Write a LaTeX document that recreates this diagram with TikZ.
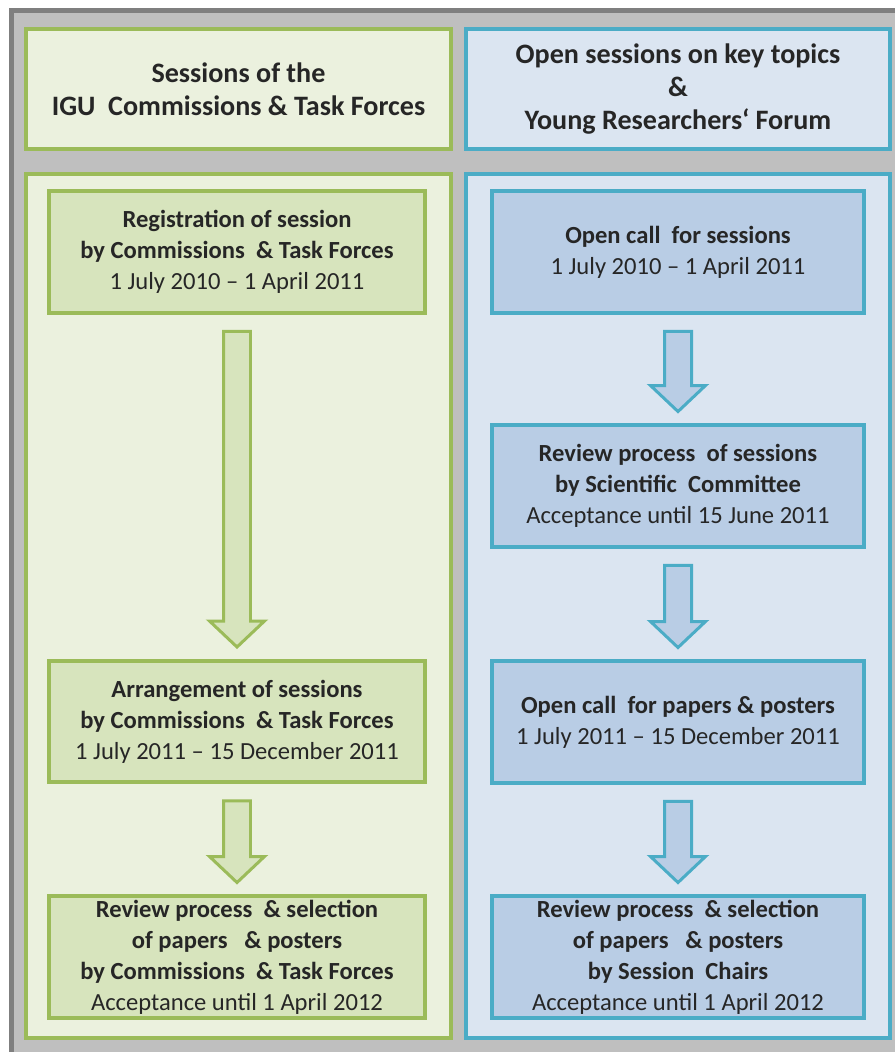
\documentclass[tikz,border=0pt]{standalone}
\usepackage{fontspec}
\setmainfont{Carlito}
\usetikzlibrary{calc}
\definecolor{frameline}{HTML}{7F7F7F}
\definecolor{framefill}{HTML}{BFBFBF}
\definecolor{igugreen}{HTML}{9BBB59}
\definecolor{greenpanel}{HTML}{EBF1DE}
\definecolor{greenbox}{HTML}{D7E4BD}
\definecolor{igublue}{HTML}{4BACC6}
\definecolor{bluepanel}{HTML}{DBE5F1}
\definecolor{bluebox}{HTML}{B9CDE5}
\tikzset{
  header/.style={draw, line width=0.08cm, align=center, inner sep=0pt,
    font=\fontsize{16}{18.8}\selectfont\bfseries, text=black!85},
  greenhead/.style={header, draw=igugreen, fill=greenpanel, minimum width=8.5cm, minimum height=2.4cm},
  bluehead/.style={header, draw=igublue, fill=bluepanel, minimum width=8.48cm, minimum height=2.4cm},
  stage/.style={draw, line width=0.08cm, align=center, inner sep=0pt, minimum height=2.44cm,
    font=\fontsize{14}{17.6}\selectfont, text=black!85},
  greenstage/.style={stage, draw=igugreen, fill=greenbox, minimum width=7.52cm},
  bluestage/.style={stage, draw=igublue, fill=bluebox, minimum width=7.44cm},
  greenarrow/.style={draw=igugreen, fill=greenbox, line width=0.06cm, line join=miter},
  bluearrow/.style={draw=igublue, fill=bluebox, line width=0.06cm, line join=miter}
}
% block arrow from the bottom of one stage to the top of the next
\newcommand{\stagearrow}[3]{%
  \draw[#3] let \p1=($(#1.south)+(0,-0.33cm)$), \p2=($(#2.north)+(0,0.23cm)$) in
    (\x1-0.27cm,\y1) -- (\x1+0.27cm,\y1) -- (\x1+0.27cm,\y2+0.52cm)
    -- (\x1+0.55cm,\y2+0.52cm) -- (\x1,\y2) -- (\x1-0.55cm,\y2+0.52cm)
    -- (\x1-0.27cm,\y2+0.52cm) -- cycle;}
\begin{document}
\begin{tikzpicture}[x=0.02cm,y=-0.02cm]
  \useasboundingbox (0,0) rectangle (895,1052);
  \clip (0,0) rectangle (895,1052);
  % frame
  \draw[frameline, fill=framefill, line width=0.1cm] (11.5,10.5) rectangle (920,1080);
  % column panels
  \draw[igugreen, fill=greenpanel, line width=0.08cm] (26,174) rectangle (451,1038);
  \draw[igublue, fill=bluepanel, line width=0.08cm] (466,174) rectangle (890,1038);

  % headers
  \node[greenhead] (igu) at (238.5,89) {Sessions of the\\IGU\ \ Commissions \& Task Forces};
  \node[bluehead] (open) at (678,89) {Open sessions on key topics\\\&\\Young Researchers‘ Forum};

  % left column
  \node[greenstage] (reg) at (237,252) {\textbf{Registration of session}\\\textbf{by Commissions \ \& Task Forces}\\1 July 2010 – 1 April 2011};
  \node[greenstage] (arr) at (237,721.5) {\textbf{Arrangement of sessions}\\\textbf{by Commissions \ \& Task Forces}\\1 July 2011 – 15 December 2011};
  \node[greenstage] (revl) at (237,957) {\textbf{Review process \ \& selection}\\\textbf{of papers \ \ \& posters}\\\textbf{by Commissions \ \& Task Forces}\\Acceptance until 1 April 2012};

  % right column
  \node[bluestage] (call) at (678,252) {\textbf{Open call \ for sessions}\\1 July 2010 – 1 April 2011};
  \node[bluestage] (sci) at (678,486) {\textbf{Review process \ of sessions}\\\textbf{by Scientific \ Committee}\\Acceptance until 15 June 2011};
  \node[bluestage] (pap) at (678,722) {\textbf{Open call \ for papers \& posters}\\1 July 2011 – 15 December 2011};
  \node[bluestage] (revr) at (678,957) {\textbf{Review process \ \& selection}\\\textbf{of papers \ \ \& posters}\\\textbf{by Session \ Chairs}\\Acceptance until 1 April 2012};

  \stagearrow{reg}{arr}{greenarrow}
  \stagearrow{arr}{revl}{greenarrow}
  \stagearrow{call}{sci}{bluearrow}
  \stagearrow{sci}{pap}{bluearrow}
  \stagearrow{pap}{revr}{bluearrow}
\end{tikzpicture}
\end{document}
